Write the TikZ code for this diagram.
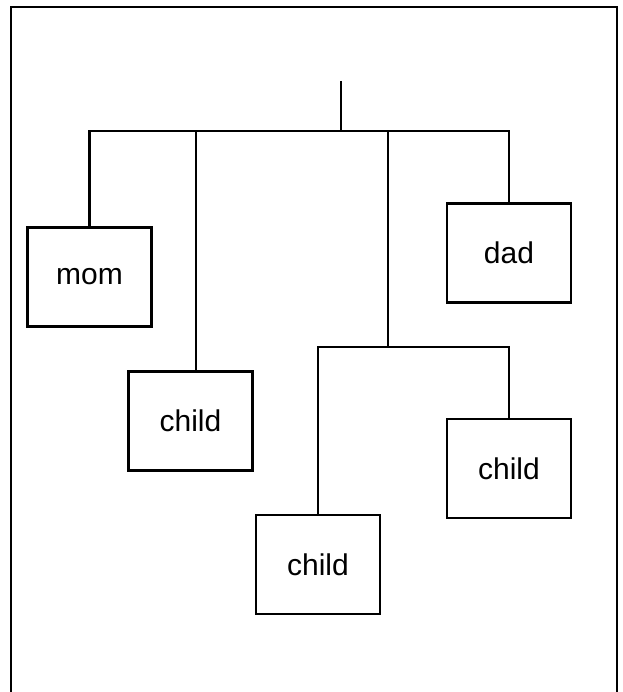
\documentclass[tikz,border=0pt]{standalone}
\usepackage{fontspec}
\setmainfont{Liberation Sans}
\usepackage{tikz}
\usetikzlibrary{positioning}

\begin{document}
\begin{tikzpicture}[x = 1pt, y = -1pt, line width = 2.2pt,
        person/.style = {draw, rectangle, fill=white, minimum width=124pt, minimum height=99pt,
            inner sep=0pt, font=\fontsize{30}{36}\selectfont}]

            \useasboundingbox (0,0) rectangle (622,692);

            \draw[line width = 2.5pt] (11,692) -- (11,7) -- (617,7) -- (617,692);

            \node[person] (mom)  at (89.5,277)  {mom};
            \node[person] (dad)  at (509,253)   {dad};
            \node[person] (kidA) at (190.5,421) {child};
            \node[person] (kidB) at (318,564.5) {child};
            \node[person] (kidC) at (509,468.5) {child};

            \coordinate (top)   at (341,81);
            \coordinate (bar)   at (341,131);
            \coordinate (split) at (388,347);

            \draw (top) -- (bar);
            \draw (mom.north) |- (bar) -| (dad.north);
            \draw ([xshift=5.5pt]kidA.north) -- ([xshift=5.5pt]kidA.north |- bar);
            \draw (split |- bar) -- (split);
            \draw (kidB.north) |- (split) -| (kidC.north);
        \end{tikzpicture}
\end{document}
